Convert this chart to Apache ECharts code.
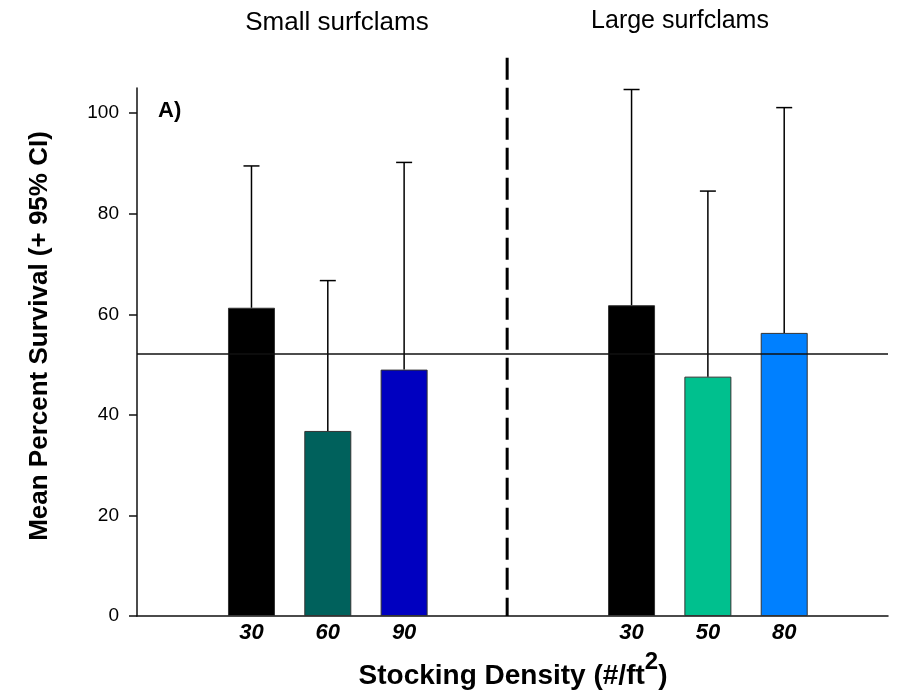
<!DOCTYPE html>
<html>
<head>
<meta charset="utf-8">
<script src="https://cdn.jsdelivr.net/npm/echarts@6/dist/echarts.min.js"></script>
<style>html,body{margin:0;padding:0;background:#fff}#chart{width:900px;height:700px}</style>
</head>
<body>
<div id="chart"></div>
<script>
// ---- data ----
const groupTitles = ['Small surfclams', 'Large surfclams'];
const densityLabels = ['30', '60', '90', '30', '50', '80'];
const meanSurvival = [61.3, 36.8, 49.0, 61.8, 47.6, 56.3];
const upperCI = [89.5, 66.7, 90.2, 104.7, 84.5, 101.1];
const overallMean = 52.1;
const yTicks = [0, 20, 40, 60, 80, 100];

// ---- layout / style ----
const slotPos = [1.5, 2.5, 3.5, 6.48, 7.48, 8.48];
const dividerPos = 4.85;
const dividerTop = 111;
const xMax = 9.84;
const barColors = ['#000000', '#00615C', '#0000C0', '#000000', '#00C08E', '#0080FF'];
const FONT = 'Liberation Sans, Arial, Helvetica, sans-serif';

const chart = echarts.init(document.getElementById('chart'));

const barData = meanSurvival.map((v, i) => ({
  value: [slotPos[i], v],
  itemStyle: { color: barColors[i] }
}));
const errData = meanSurvival.map((v, i) => [slotPos[i], v, upperCI[i]]);

chart.setOption({
  animation: false,
  backgroundColor: '#fff',
  grid: { left: 137, right: 12, top: 88, bottom: 84 },
  xAxis: {
    type: 'value', min: 0, max: xMax,
    splitLine: { show: false },
    axisTick: { show: false },
    axisLine: { lineStyle: { color: '#111', width: 1.5 } },
    axisLabel: {
      customValues: slotPos,
      formatter: function (val) {
        for (let i = 0; i < slotPos.length; i++) {
          if (Math.abs(slotPos[i] - val) < 1e-6) return densityLabels[i];
        }
        return '';
      },
      fontFamily: FONT, fontSize: 22, fontWeight: 'bold', fontStyle: 'italic',
      color: '#000', margin: 6
    }
  },
  yAxis: {
    type: 'value', min: 0, max: 105,
    splitLine: { show: false },
    axisLine: { show: true, lineStyle: { color: '#111', width: 1.5 } },
    axisTick: { show: true, customValues: yTicks, length: 8, lineStyle: { color: '#111', width: 1.5 } },
    axisLabel: { customValues: yTicks, fontFamily: FONT, fontSize: 19, color: '#000', margin: 18 }
  },
  series: [
    {
      type: 'bar',
      data: barData,
      barWidth: 47,
      itemStyle: { borderColor: '#333', borderWidth: 1 },
      markLine: {
        silent: true,
        symbol: 'none',
        label: { show: false },
        lineStyle: { color: '#111', width: 1.5, type: 'solid' },
        data: [{ yAxis: overallMean }]
      },
      z: 2
    },
    {
      type: 'custom',
      data: errData,
      encode: { x: 0, y: [1, 2] },
      z: 3,
      renderItem: function (params, api) {
        const x = api.value(0);
        const base = api.coord([x, api.value(1)]);
        const top = api.coord([x, api.value(2)]);
        const st = { stroke: '#000', lineWidth: 1.5 };
        return {
          type: 'group',
          children: [
            { type: 'line', shape: { x1: base[0], y1: base[1], x2: top[0], y2: top[1] }, style: st },
            { type: 'line', shape: { x1: top[0] - 8, y1: top[1], x2: top[0] + 8, y2: top[1] }, style: st }
          ]
        };
      }
    },
    {
      type: 'custom',
      data: [[dividerPos, dividerTop, 0]],
      encode: { x: 0, y: [1, 2] },
      clip: false,
      z: 4,
      renderItem: function (params, api) {
        const a = api.coord([api.value(0), api.value(1)]);
        const b = api.coord([api.value(0), api.value(2)]);
        return {
          type: 'line',
          shape: { x1: a[0], y1: a[1], x2: b[0], y2: b[1] },
          style: { stroke: '#000', lineWidth: 3, lineDash: [22, 8] }
        };
      }
    }
  ],
  graphic: [
    { type: 'text', x: 337, y: 23, style: { text: groupTitles[0], font: '26px ' + FONT, fill: '#000', align: 'center', verticalAlign: 'middle', textAlign: 'center', textVerticalAlign: 'middle' } },
    { type: 'text', x: 680, y: 21, style: { text: groupTitles[1], font: '25px ' + FONT, fill: '#000', align: 'center', verticalAlign: 'middle', textAlign: 'center', textVerticalAlign: 'middle' } },
    { type: 'text', x: 158, y: 111, style: { text: 'A)', font: 'bold 22px ' + FONT, fill: '#000', align: 'left', verticalAlign: 'middle', textAlign: 'left', textVerticalAlign: 'middle' } },
    { type: 'text', x: 40, y: 336, rotation: Math.PI / 2, style: { text: 'Mean Percent Survival (+ 95% CI)', font: 'bold 26px ' + FONT, fill: '#000', align: 'center', verticalAlign: 'middle', textAlign: 'center', textVerticalAlign: 'middle' } },
    { type: 'text', x: 513, y: 670, style: {
        text: '{a|Stocking Density (#/ft}{s|2}{a|)}',
        align: 'center', verticalAlign: 'middle', textAlign: 'center', textVerticalAlign: 'middle',
        rich: {
          a: { fontFamily: FONT, fontSize: 28, fontWeight: 'bold', fill: '#000', color: '#000', lineHeight: 40, verticalAlign: 'bottom' },
          s: { fontFamily: FONT, fontSize: 24, fontWeight: 'bold', fill: '#000', color: '#000', lineHeight: 24, verticalAlign: 'top' }
        }
      } }
  ]
});
</script>
</body>
</html>
